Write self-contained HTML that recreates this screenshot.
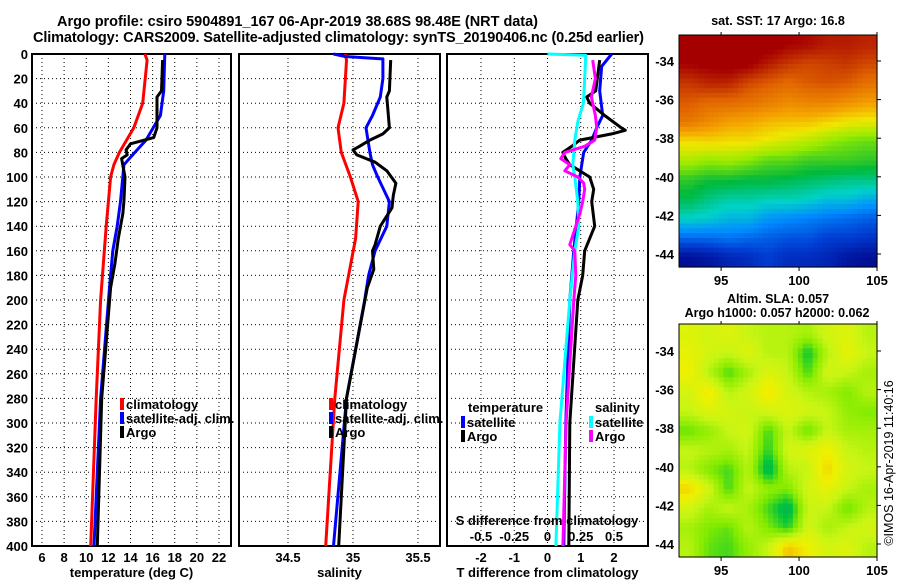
<!DOCTYPE html>
<html><head><meta charset="utf-8"><style>
html,body{margin:0;padding:0;background:#fff;}
svg{display:block;font-family:"Liberation Sans",sans-serif;}
.b{font-weight:bold;font-size:13px;}
</style></head><body>
<svg id="fig" width="900" height="580" viewBox="0 0 900 580" xmlns="http://www.w3.org/2000/svg">
<text x="57" y="26" class="b" style="font-size:14.5px" textLength="481">Argo profile: csiro 5904891_167 06-Apr-2019 38.68S 98.48E (NRT data)</text>
<text x="33" y="42" class="b" style="font-size:14.5px" textLength="611">Climatology: CARS2009. Satellite-adjusted climatology: synTS_20190406.nc (0.25d earlier)</text>
<g id="g1"></g>
<g id="g2"></g>
<g id="g3"></g>
<g id="m1"></g>
<g id="m2"></g>
<text x="778" y="25" text-anchor="middle" class="b" style="font-size:12.5px">sat. SST: 17 Argo: 16.8</text>
<text x="778" y="303" text-anchor="middle" class="b" style="font-size:12.5px">Altim. SLA: 0.057</text>
<text x="777" y="317" text-anchor="middle" class="b" style="font-size:12.5px">Argo h1000: 0.057 h2000: 0.062</text>
<text transform="translate(893,463) rotate(-90)" text-anchor="middle" style="font-size:12.5px">©IMOS 16-Apr-2019 11:40:16</text>
</svg>
<script>
// ---- data ----
const depthTicks = [0,20,40,60,80,100,120,140,160,180,200,220,240,260,280,300,320,340,360,380,400];
const tempTicks = [6,8,10,12,14,16,18,20,22];
const salTicks = [34.5,35,35.5];
const tdiffTicks = [-2,-1,0,1,2];
const sdiffTicks = [-0.5,-0.25,0,0.25,0.5];
const sdiffTickLabels = ["-0.5","-0.25","0","0.25","0.5"];

const tClimDepth = [0,5,40,60,80,90,100,140,200,280,400];
const tClimVal   = [15.3,15.5,15.1,14.3,13.0,12.5,12.2,11.8,11.3,10.9,10.4];
const tSatDepth = [0,30,50,70,80,90,100,120,140,160,190,280,400];
const tSatVal   = [17.1,17.0,16.7,15.4,14.4,13.4,13.3,13.1,12.8,12.4,12.1,11.3,10.7];
const tArgoDepth = [5,30,35,60,68,73,78,82,85,100,120,130,150,170,190,280,400];
const tArgoVal   = [16.9,16.8,16.4,16.4,16.1,14.0,13.6,13.7,13.2,13.5,13.4,13.3,12.9,12.6,12.2,11.4,11.0];

const sClimDepth = [0,5,40,60,80,100,120,150,200,280,400];
const sClimVal   = [34.94,34.95,34.93,34.885,34.91,34.98,35.04,35.02,34.93,34.86,34.79];
const sSatDepth = [0,2,4,20,35,50,60,80,90,100,120,140,160,180,200,280,400];
const sSatVal   = [34.85,34.94,35.23,35.23,35.21,35.15,35.10,35.13,35.15,35.19,35.28,35.26,35.17,35.12,35.09,34.95,34.85];
const sArgoDepth = [5,30,35,60,65,70,75,78,82,88,95,105,115,125,140,155,160,175,190,280,400];
const sArgoVal   = [35.29,35.28,35.26,35.28,35.23,35.13,35.05,35.00,35.03,35.17,35.26,35.33,35.31,35.30,35.21,35.17,35.15,35.16,35.11,34.95,34.89];

const dTSatDepth = [0,10,30,50,60,70,80,100,120,160,200,300,400];
const dTSatVal   = [1.93,1.63,1.57,1.66,1.48,1.33,1.09,0.97,0.94,0.79,0.67,0.55,0.49];
const dTArgoDepth = [5,30,35,40,50,60,62,65,70,75,80,85,90,100,110,120,140,160,180,200,300,400];
const dTArgoVal   = [1.57,1.45,1.18,1.27,1.72,2.22,2.34,1.93,0.97,0.73,0.46,0.55,0.67,1.27,1.39,1.33,1.42,1.12,1.06,0.91,0.67,0.64];
const dSSatDepth = [0,1,20,40,55,70,90,100,120,140,160,200,300,400];
const dSSatVal   = [0.0,0.287,0.28,0.27,0.228,0.205,0.19,0.205,0.228,0.235,0.205,0.168,0.093,0.063];
const dSArgoDepth = [5,20,35,50,60,70,75,80,85,90,95,100,105,110,120,130,155,160,180,200,300,400];
const dSArgoVal   = [0.34,0.36,0.33,0.36,0.37,0.355,0.28,0.13,0.10,0.168,0.13,0.228,0.272,0.28,0.265,0.243,0.168,0.205,0.213,0.198,0.14,0.116];

const mapLonTicks = [95,100,105];
const mapLatTicks = [-34,-36,-38,-40,-42,-44];
const sstGrid = [
[19.8,19.8,19.8,19.8,19.8,19.6,19.5,19.3,19.3,19.2],
[19.6,19.7,19.8,19.7,19.3,19.0,18.8,18.9,19.0,18.8],
[19.0,19.2,19.2,18.8,18.6,18.4,18.6,18.7,18.6,18.3],
[18.6,18.4,18.4,18.3,18.1,17.9,18.0,18.0,17.8,17.6],
[18.2,17.9,17.6,17.5,17.3,17.2,17.2,17.0,16.8,16.7],
[16.9,17.0,16.9,16.9,16.7,16.5,16.3,16.0,15.8,15.7],
[16.2,16.0,16.1,15.9,15.6,15.6,15.4,15.4,15.4,15.3],
[15.3,15.1,15.1,15.0,15.0,14.9,14.8,14.7,14.6,14.6],
[14.9,14.6,14.4,14.4,14.3,14.3,14.2,14.0,14.0,13.8],
[14.2,14.1,13.9,13.9,13.6,13.5,13.4,13.3,13.2,13.1],
[13.2,13.2,13.3,13.2,13.1,13.0,13.0,12.8,12.8,12.7],
[12.2,12.3,12.5,12.6,12.8,12.6,12.6,12.5,12.3,12.2]];
const slaGrid = [
[0.06,0.05,0.06,0.04,0.03,0.03,0.02,0.05,0.06,0.03],
[0.07,0.05,0.04,0.06,0.03,0.03,-0.04,0.03,0.07,0.04],
[0.08,0.03,-0.02,0.02,0.06,0.04,-0.02,0.05,0.04,0.02],
[0.05,0.09,0.03,0.05,0.09,0.05,0.03,0.02,0.00,0.03],
[0.04,0.06,0.05,0.04,0.05,0.06,0.05,0.04,0.01,0.00],
[-0.01,0.01,0.04,0.05,-0.02,0.04,-0.01,0.04,0.02,0.02],
[0.04,0.03,0.02,0.04,-0.03,0.05,0.06,0.08,0.04,0.03],
[0.03,0.00,-0.02,0.03,-0.06,0.03,0.04,0.10,0.05,0.04],
[0.10,0.05,-0.02,0.04,0.01,0.00,0.05,0.07,0.04,0.02],
[0.05,0.02,0.04,0.02,-0.02,-0.06,0.04,0.04,-0.01,0.03],
[0.02,0.00,-0.01,0.03,0.00,-0.03,0.05,0.02,0.04,0.05],
[0.03,-0.01,-0.02,0.01,0.04,0.11,0.08,0.05,0.06,0.03]];

// ---- helpers ----
const NS="http://www.w3.org/2000/svg";
function mk(parent,tag,attrs,text){const e=document.createElementNS(NS,tag);for(const k in attrs)e.setAttribute(k,attrs[k]);if(text!==undefined)e.textContent=text;parent.appendChild(e);return e;}
function lin(d0,d1,r0,r1){return v=>r0+(v-d0)*(r1-r0)/(d1-d0);}
const Y0=54,Y1=546;
const yD=lin(0,400,Y0,Y1);

function panel(g,x0,x1,xs,ticks,tickLab,title,showY){
  ticks.forEach((t,i)=>{const x=xs(t);
    const l=mk(g,'line',{x1:x,x2:x,y1:Y0,y2:Y1,stroke:'#000','stroke-width':1,'stroke-dasharray':'1 3'});
    
    
    const tx=mk(g,'text',{x:x,y:562,'text-anchor':'middle',class:'b'},tickLab?tickLab[i]:String(t));
    
    
  });
  depthTicks.forEach(d=>{const y=yD(d);
    const l=mk(g,'line',{x1:x0,x2:x1,y1:y,y2:y,stroke:'#000','stroke-width':1,'stroke-dasharray':'1 3'});
    
    
    if(showY){const tx=mk(g,'text',{x:28,y:y+5,'text-anchor':'end',class:'b'},String(d));
      
      }
  });
  const r=mk(g,'rect',{x:x0,y:Y0,width:x1-x0,height:Y1-Y0,fill:'none',stroke:'#000','stroke-width':2});
  
  
  const t=mk(g,'text',{x:(x0+x1)/2,y:577,'text-anchor':'middle',class:'b'},title);
  
  
}
function series(g,depths,vals,xs,color,name){
  const pts=depths.map((d,i)=>xs(vals[i]).toFixed(1)+','+yD(d).toFixed(1)).join(' ');
  const p=mk(g,'polyline',{points:pts,fill:'none',stroke:color,'stroke-width':3,'stroke-linejoin':'round'});
  
  
}
function legend(g,x,y,color,label,name){
  const r=mk(g,'rect',{x:x,y:y-10,width:4,height:12,fill:color});
  
  
  const t=mk(g,'text',{x:x+6,y:y+1,class:'b'},label);
  
  
}

// Panel 1
const g1=document.getElementById('g1');
const xT=lin(6,22,42,219);
panel(g1,32,231,xT,tempTicks,null,'temperature (deg C)',true);
series(g1,tClimDepth,tClimVal,xT,'#f00','temp-climatology-line');
series(g1,tSatDepth,tSatVal,xT,'#00f','temp-satellite-line');
series(g1,tArgoDepth,tArgoVal,xT,'#000','temp-argo-line');
legend(g1,120,408,'#f00','climatology','legend-climatology');
legend(g1,120,422,'#00f','satellite-adj. clim.','legend-satellite');
legend(g1,120,436,'#000','Argo','legend-argo');

// Panel 2
const g2=document.getElementById('g2');
const xS=lin(34.5,35.5,288,418);
panel(g2,239,440,xS,salTicks,null,'salinity',false);
series(g2,sClimDepth,sClimVal,xS,'#f00','sal-climatology-line');
series(g2,sSatDepth,sSatVal,xS,'#00f','sal-satellite-line');
series(g2,sArgoDepth,sArgoVal,xS,'#000','sal-argo-line');
legend(g2,329,408,'#f00','climatology','legend-climatology');
legend(g2,329,422,'#00f','satellite-adj. clim.','legend-satellite');
legend(g2,329,436,'#000','Argo','legend-argo');

// Panel 3
const g3=document.getElementById('g3');
const xDT=lin(-2,2,481,614);
const xDS=v=>xDT(v*4);
panel(g3,447,648,xDT,tdiffTicks,null,'T difference from climatology',false);
series(g3,dTSatDepth,dTSatVal,xDT,'#00f','tdiff-satellite-line');
series(g3,dTArgoDepth,dTArgoVal,xDT,'#000','tdiff-argo-line');
series(g3,dSSatDepth,dSSatVal,xDS,'#0ff','sdiff-satellite-line');
series(g3,dSArgoDepth,dSArgoVal,xDS,'#f0f','sdiff-argo-line');
{const t=mk(g3,'text',{x:468,y:412,class:'b'},'temperature');}
legend(g3,461,426,'#00f','satellite','legend-t-satellite');
legend(g3,461,440,'#000','Argo','legend-t-argo');
{const t=mk(g3,'text',{x:595,y:412,class:'b'},'salinity');}
legend(g3,589,426,'#0ff','satellite','legend-s-satellite');
legend(g3,589,440,'#f0f','Argo','legend-s-argo');
{const t=mk(g3,'text',{x:547,y:525,'text-anchor':'middle',class:'b'},'S difference from climatology');}
sdiffTicks.forEach((s,i)=>{const t=mk(g3,'text',{x:xDS(s),y:541,'text-anchor':'middle',class:'b'},sdiffTickLabels[i]);
  
  });

// Maps
function cmap(stops,v){
  if(v<=stops[0][0])return stops[0][1];
  for(let i=1;i<stops.length;i++){if(v<=stops[i][0]){const a=stops[i-1],b=stops[i],f=(v-a[0])/(b[0]-a[0]);
    return a[1].map((x,k)=>Math.round(x+(b[1][k]-x)*f));}}
  return stops[stops.length-1][1];
}
const sstStops=[[12,[0,0,130]],[12.8,[0,60,210]],[13.5,[0,140,255]],[14.2,[0,210,200]],[15,[0,185,60]],[16,[150,235,0]],[16.8,[240,230,0]],[17.5,[245,165,0]],[18.5,[225,100,0]],[19.6,[165,0,0]]];
const slaStops=[[-0.08,[20,160,110]],[-0.04,[0,195,60]],[0,[130,235,0]],[0.04,[200,245,20]],[0.08,[240,240,0]],[0.12,[245,180,0]]];
function sample(grid,fr,fc){
  const R=grid.length-1,C=grid[0].length-1;
  fr=Math.max(0,Math.min(R,fr));fc=Math.max(0,Math.min(C,fc));
  const r0=Math.floor(fr),c0=Math.floor(fc),r1=Math.min(R,r0+1),c1=Math.min(C,c0+1),a=fr-r0,b=fc-c0;
  return grid[r0][c0]*(1-a)*(1-b)+grid[r0][c1]*(1-a)*b+grid[r1][c0]*a*(1-b)+grid[r1][c1]*a*b;
}
function drawMap(id,x0,x1,y0,y1,grid,stops,latTop){
  const g=document.getElementById(id);
  const xl=lin(92.3,105,x0,x1);
  const yl=lin(-34,-44,latTop,latTop+193);
  const rows=grid.length,cols=grid[0].length,F=4;
  const nr=rows*F,nc=cols*F,cw=(x1-x0)/nc,ch=(y1-y0)/nr;
  for(let r=0;r<nr;r++)for(let c=0;c<nc;c++){
    const v=sample(grid,(r+0.5)/F-0.5,(c+0.5)/F-0.5);
    const col=cmap(stops,v);
    const e=mk(g,'rect',{x:(x0+c*cw).toFixed(2),y:(y0+r*ch).toFixed(2),width:(cw+0.6).toFixed(2),height:(ch+0.6).toFixed(2),fill:'rgb('+col.join(',')+')'});
    
    
  }
  const fr=mk(g,'rect',{x:x0,y:y0,width:x1-x0,height:y1-y0,fill:'none',stroke:'#000','stroke-width':1});
  
  
  mapLatTicks.forEach(l=>{const y=yl(l);
    mk(g,'line',{x1:x1,x2:x1+4,y1:y,y2:y,stroke:'#000'});
    const t=mk(g,'text',{x:674,y:y+5,'text-anchor':'end',class:'b'},String(l));
    
    });
  mapLonTicks.forEach(l=>{const x=xl(l);
    mk(g,'line',{x1:x,x2:x,y1:y1,y2:y1+4,stroke:'#000'});
    mk(g,'line',{x1:x,x2:x,y1:y0,y2:y0-3,stroke:'#000'});
    const t=mk(g,'text',{x:x,y:y1+18,'text-anchor':'middle',class:'b'},String(l));
    
    });
}
drawMap('m1',679,877,35,267,sstGrid,sstStops,61);
drawMap('m2',679,877,324,557,slaGrid,slaStops,351);
</script>
</body></html>
